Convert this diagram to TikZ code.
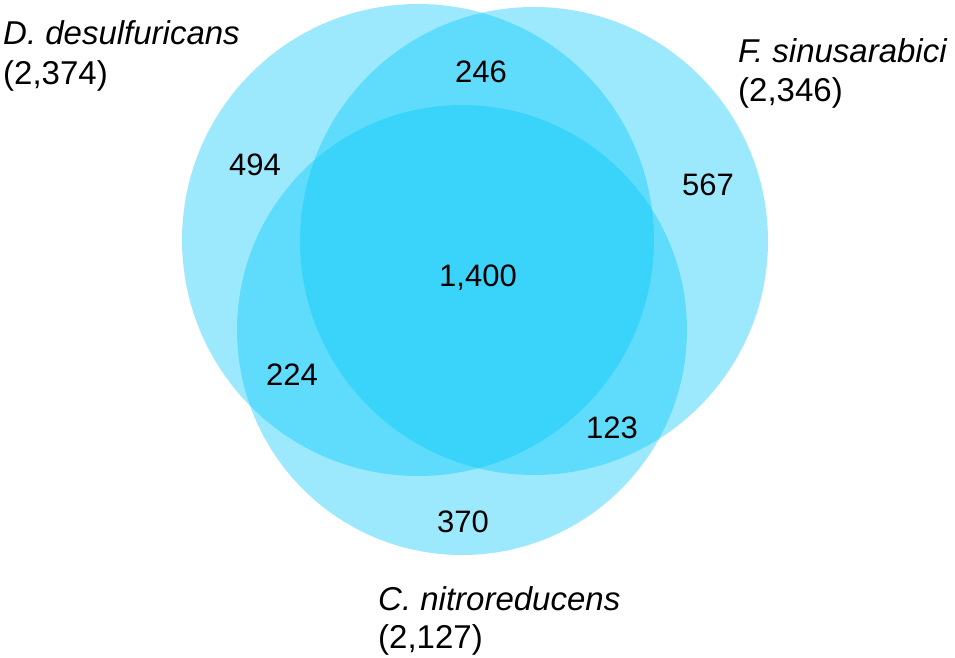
\documentclass[tikz,border=0pt]{standalone}
\usepackage{fontspec}
\setmainfont{Liberation Sans}
\definecolor{venn}{RGB}{0,199,250}
\begin{document}
\begin{tikzpicture}[x=1pt,y=-1pt,
  setcircle/.style={circle,fill=venn,fill opacity=0.39,draw=none,inner sep=0pt},
  num/.style={font=\fontsize{31}{36}\selectfont,inner sep=0pt,anchor=center},
  lab/.style={font=\fontsize{33}{40}\selectfont,inner sep=0pt,anchor=base west}]
\useasboundingbox (0,0) rectangle (955,658);
\node[setcircle,minimum size=472pt] (cd) at (418,240) {};
\node[setcircle,minimum size=468pt] (cf) at (534,241) {};
\node[setcircle,minimum size=450pt] (cc) at (462,330) {};
\node[num] (n246) at (481,72) {246};
\node[num] (n494) at (255,165) {494};
\node[num] (n567) at (708,185) {567};
\node[num] (n1400) at (478,278) {1,400};
\node[num] (n224) at (292,375) {224};
\node[num] (n123) at (612,428) {123};
\node[num] (n370) at (463,522) {370};
\node[lab] (dname) at (3,45) {\itshape D. desulfuricans};
\node[lab] (dcount) at (3,85) {(2,374)};
\node[lab] (fname) at (738,63) {\itshape F. sinusarabici};
\node[lab] (fcount) at (738,102) {(2,346)};
\node[lab] (cname) at (378,610) {\itshape C. nitroreducens};
\node[lab] (ccount) at (378,648) {(2,127)};
\end{tikzpicture}
\end{document}
